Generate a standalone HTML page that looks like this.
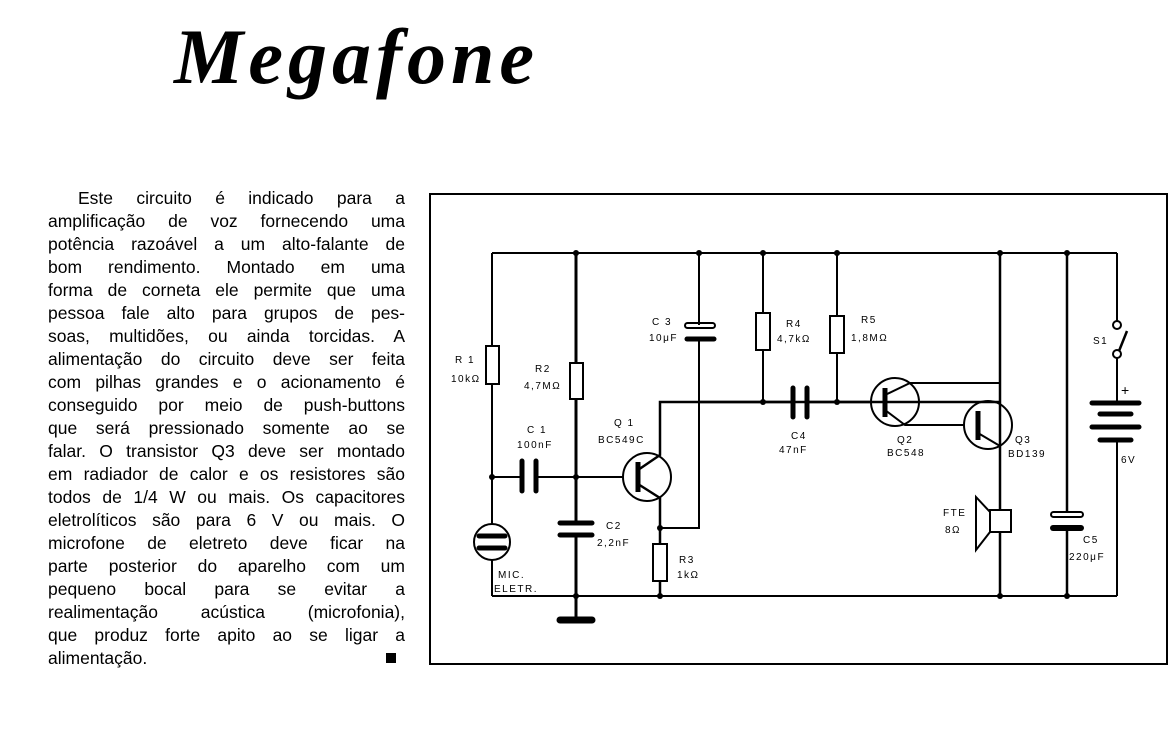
<!DOCTYPE html>
<html><head><meta charset="utf-8"><style>
body{margin:0;width:1176px;height:747px;background:#fff;position:relative;overflow:hidden;font-family:"Liberation Sans",sans-serif;}
h1{position:absolute;left:174px;top:12px;margin:0;font:italic bold 78px "Liberation Serif",serif;color:#000;letter-spacing:5px;}
.t{position:absolute;left:48px;top:187px;width:357px;font-size:17.5px;line-height:23px;color:#000;}
.t div{text-align:justify;text-align-last:justify;white-space:nowrap;height:23px;overflow:visible}
.t div.l{text-align-last:left}
svg{position:absolute;left:0;top:0}
</style></head><body>
<h1>Megafone</h1>
<div class="t">
<div style="padding-left:30px">Este circuito é indicado para a</div>
<div>amplificação de voz fornecendo uma</div>
<div>potência razoável a um alto-falante de</div>
<div>bom rendimento. Montado em uma</div>
<div>forma de corneta ele permite que uma</div>
<div>pessoa fale alto para grupos de pes-</div>
<div>soas, multidões, ou ainda torcidas. A</div>
<div>alimentação do circuito deve ser feita</div>
<div>com pilhas grandes e o acionamento é</div>
<div>conseguido por meio de push-buttons</div>
<div>que será pressionado somente ao se</div>
<div>falar. O transistor Q3 deve ser montado</div>
<div>em radiador de calor e os resistores são</div>
<div>todos de 1/4 W ou mais. Os capacitores</div>
<div>eletrolíticos são para 6 V ou mais. O</div>
<div>microfone de eletreto deve ficar na</div>
<div>parte posterior do aparelho com um</div>
<div>pequeno bocal para se evitar a</div>
<div>realimentação acústica (microfonia),</div>
<div>que produz forte apito ao se ligar a</div>
<div class="l">alimentação.</div>
</div>
<svg width="1176" height="747" viewBox="0 0 1176 747" fill="none" stroke="#000" stroke-width="2">
<rect x="386" y="653" width="10" height="10" fill="#000" stroke="none"/>
<rect x="430" y="194" width="737" height="470" stroke-width="2"/>
<path d="M492 253H1117M492 596H1117"/>
<path d="M492 253V346M492 384V524M492 560V596"/>
<rect x="486" y="346" width="13" height="38" fill="#fff"/>
<circle cx="492" cy="542" r="18"/>
<path d="M479 536H505M479 548H505" stroke-width="5" stroke-linecap="round"/>
<path d="M492 477H520M538 477H623"/>
<path d="M522 461V491M536 461V491" stroke-width="5" stroke-linecap="round"/>
<path d="M576 253V363M576 399V521M576 537V620" stroke-width="3"/>
<rect x="570" y="363" width="13" height="36" fill="#fff"/>
<path d="M560 523H592M560 535H592" stroke-width="5" stroke-linecap="round"/>
<path d="M560 620H592" stroke-width="7" stroke-linecap="round"/>
<circle cx="647" cy="477" r="24"/>
<path d="M638 462V492" stroke-width="5"/>
<path d="M638 470L660 455V402H1000M638 484L660 498V544M660 581V596" stroke-width="2.5"/>
<path d="M660 528H699V340" />
<path d="M699 253V325"/>
<rect x="685" y="323" width="30" height="5" rx="2.5"/>
<path d="M687 339H714" stroke-width="5" stroke-linecap="round"/>
<rect x="653" y="544" width="14" height="37" fill="#fff"/>
<path d="M763 253V313M763 350V403M837 253V316M837 353V403"/>
<rect x="756" y="313" width="14" height="37" fill="#fff"/>
<rect x="830" y="316" width="14" height="37" fill="#fff"/>
<path d="M700 402H791M809 402H871" stroke-width="2.5"/>
<path d="M793 388V417M807 388V417" stroke-width="5" stroke-linecap="round"/>
<circle cx="895" cy="402" r="24"/>
<path d="M885 388V417" stroke-width="5"/>
<path d="M885 395L910 383H1000M885 410L905 425H964"/>
<path d="M1000 253V596" stroke-width="2.5"/>
<circle cx="988" cy="425" r="24"/>
<path d="M978 411V440" stroke-width="5"/>
<path d="M978 433L1000 446"/>
<rect x="990" y="510" width="21" height="22" fill="#fff"/>
<path d="M990 512L976 497V550L990 532"/>
<path d="M1067 253V513M1067 531V596" stroke-width="2.5"/>
<rect x="1051" y="512" width="32" height="5" rx="2.5"/>
<path d="M1053 528H1081" stroke-width="6" stroke-linecap="round"/>
<path d="M1117 253V321M1117 358V403M1117 440V596"/>
<circle cx="1117" cy="325" r="4"/><circle cx="1117" cy="354" r="4"/>
<path d="M1119 351L1127 331" stroke-width="2.5"/>
<path d="M1092 403H1139M1100 414H1131M1092 427H1139M1100 440H1131" stroke-width="5" stroke-linecap="round"/>
<g fill="#000" stroke="none">
<circle cx="576" cy="253" r="3"/><circle cx="699" cy="253" r="3"/><circle cx="763" cy="253" r="3"/><circle cx="837" cy="253" r="3"/><circle cx="1000" cy="253" r="3"/><circle cx="1067" cy="253" r="3"/>
<circle cx="492" cy="477" r="3"/><circle cx="576" cy="477" r="3"/><circle cx="660" cy="528" r="3"/>
<circle cx="763" cy="402" r="3"/><circle cx="837" cy="402" r="3"/>
<circle cx="576" cy="596" r="3"/><circle cx="660" cy="596" r="3"/><circle cx="1000" cy="596" r="3"/><circle cx="1067" cy="596" r="3"/>
<g font-family="Liberation Sans,sans-serif" font-size="10" letter-spacing="1.5">
<text x="455" y="363">R 1</text><text x="451" y="382">10kΩ</text>
<text x="535" y="372">R2</text><text x="524" y="389">4,7MΩ</text>
<text x="527" y="433">C 1</text><text x="517" y="448">100nF</text>
<text x="614" y="426">Q 1</text><text x="598" y="443">BC549C</text>
<text x="606" y="529">C2</text><text x="597" y="546">2,2nF</text>
<text x="679" y="563">R3</text><text x="677" y="578">1kΩ</text>
<text x="498" y="578">MIC.</text><text x="494" y="592">ELETR.</text>
<text x="652" y="325">C 3</text><text x="649" y="341">10μF</text>
<text x="786" y="327">R4</text><text x="777" y="342">4,7kΩ</text>
<text x="861" y="323">R5</text><text x="851" y="341">1,8MΩ</text>
<text x="791" y="439">C4</text><text x="779" y="453">47nF</text>
<text x="897" y="443">Q2</text><text x="887" y="456">BC548</text>
<text x="1015" y="443">Q3</text><text x="1008" y="457">BD139</text>
<text x="943" y="516">FTE</text><text x="945" y="533">8Ω</text>
<text x="1083" y="543">C5</text><text x="1069" y="560">220μF</text>
<text x="1093" y="344">S1</text><text x="1121" y="463">6V</text>
</g>
<text x="1121" y="395" font-size="14" font-family="Liberation Sans,sans-serif">+</text>
</g>
</svg>
</body></html>
